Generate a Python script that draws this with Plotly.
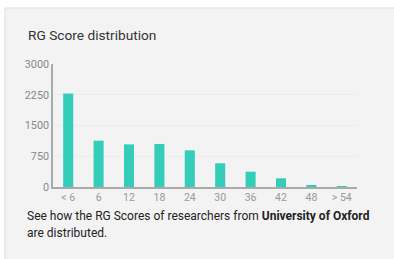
import plotly.graph_objects as go

categories = ["< 6", "6", "12", "18", "24", "30", "36", "42", "48", "> 54"]
counts = [2280, 1130, 1040, 1050, 895, 578, 373, 212, 50, 10]
y_ticks = [0, 750, 1500, 2250, 3000]

W, H = 394, 259
L, R, T, B = 53, 37, 64, 72
pw, ph = W - L - R, H - T - B

def px(x):
    return (x - L) / pw

def py(y):
    return (H - B - y) / ph

fig = go.Figure(go.Bar(
    x=categories, y=counts,
    marker=dict(color="#33CDB9", line=dict(width=0)),
    hoverinfo="skip",
))

fig.update_layout(
    width=W, height=H,
    margin=dict(l=L, r=R, t=T, b=B),
    paper_bgcolor="white",
    plot_bgcolor="#f6f7f3",
    bargap=0.67,
    showlegend=False,
    font=dict(family="Roboto", size=10.5, color="#888"),
    xaxis=dict(
        type="category", showgrid=False, showline=True, linecolor="#aaa", linewidth=1.5,
        ticks="", tickfont=dict(size=10.5, color="#999"), fixedrange=True,
    ),
    yaxis=dict(
        range=[0, 3000], tickvals=y_ticks, showgrid=True, gridcolor="#ececea", gridwidth=1,
        showline=True, linecolor="#aaa", linewidth=1.5, zeroline=False,
        ticks="", tickfont=dict(size=10.8, color="#888"), fixedrange=True,
    ),
    shapes=[dict(
        type="rect", xref="paper", yref="paper", layer="below",
        x0=px(5), x1=px(410), y0=py(275), y1=py(8),
        fillcolor="#f3f3f3", line=dict(color="#dddddd", width=1),
    )],
    annotations=[
        dict(text="RG Score distribution", xref="paper", yref="paper",
             x=px(26), y=py(35), xanchor="left", yanchor="middle", showarrow=False,
             font=dict(family="Roboto", size=13.7, color="#333")),
        dict(text="See how the RG Scores of researchers from <b>University of Oxford</b>",
             xref="paper", yref="paper", x=px(25), y=py(216), xanchor="left", yanchor="middle",
             showarrow=False, font=dict(family="Roboto", size=12, color="#222")),
        dict(text="are distributed.", xref="paper", yref="paper", x=px(25), y=py(233),
             xanchor="left", yanchor="middle", showarrow=False,
             font=dict(family="Roboto", size=12, color="#222")),
    ],
)

fig.write_html(
    "out.html",
    config=dict(displayModeBar=False),
    post_script="document.body.style.margin='0';document.body.style.overflow='hidden';",
)
